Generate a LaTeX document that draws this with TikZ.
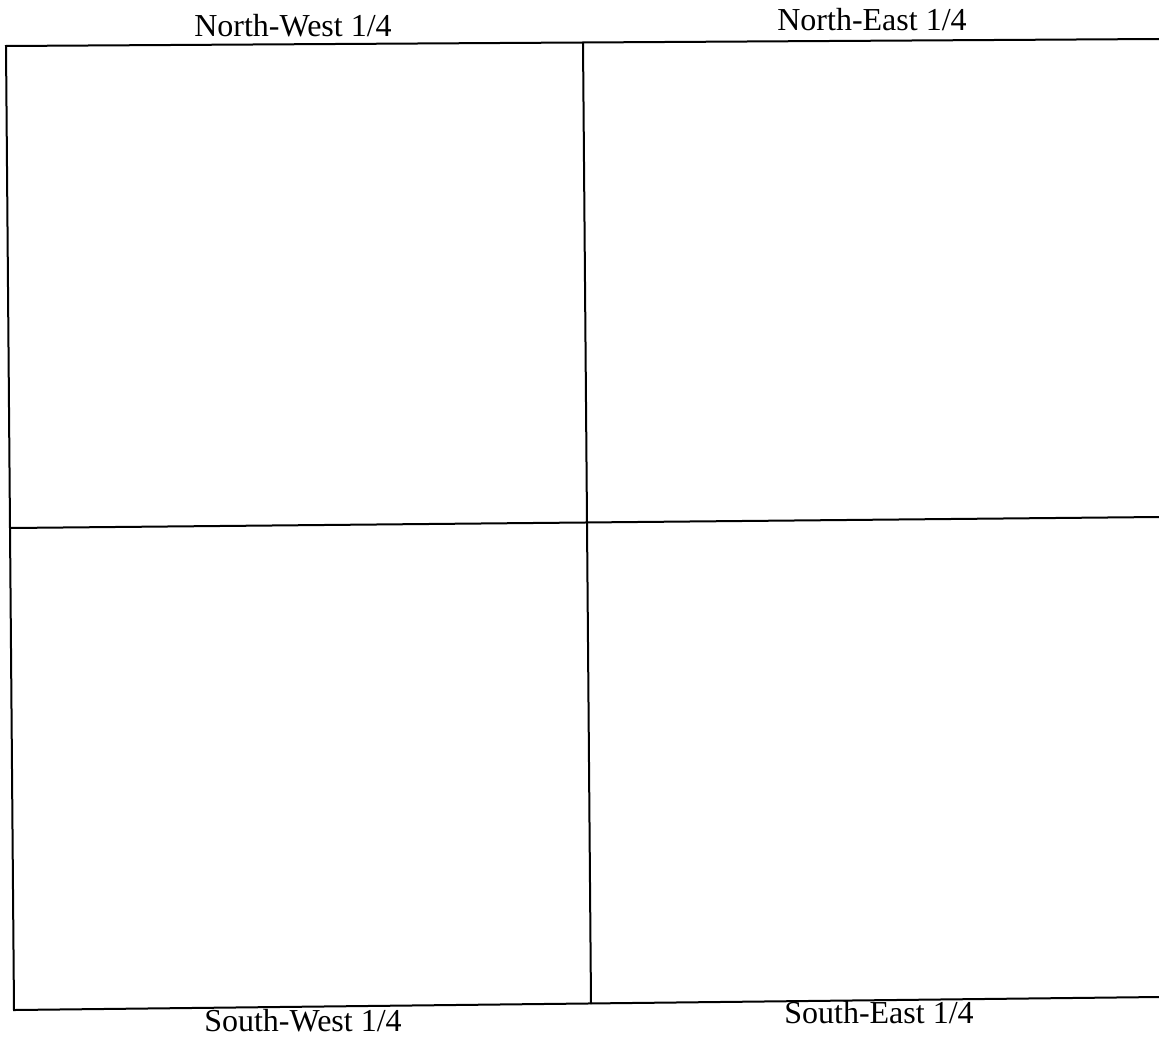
\documentclass[tikz,border=0pt]{standalone}
\usepackage{fontspec}
\setmainfont{Liberation Serif}
\usetikzlibrary{positioning}

\begin{document}
\begin{tikzpicture}[
  x=0.5pt, y=-0.5pt,
  rule/.style={line width=1pt, black},
  lab/.style={font=\fontsize{16}{19}\selectfont, anchor=base, inner sep=0pt}]
  \useasboundingbox (0,0) rectangle (1159,1038);
  % corners and ends of the cross, as scanned (slightly tilted)
  \coordinate (nw) at (6,46);     \coordinate (ne) at (1159,39);
  \coordinate (sw) at (14,1010);  \coordinate (se) at (1159,997);
  \coordinate (mt) at (583,43);   \coordinate (mb) at (591,1004);
  \coordinate (ml) at (10,528);   \coordinate (mr) at (1159,517);
  \draw[rule] (ne) -- (nw) -- (sw) -- (se);
  \draw[rule] (mt) -- (mb);
  \draw[rule] (ml) -- (mr);
  \node[lab] (nwq) at (293,37)   {North-West 1/4};
  \node[lab] (neq) at (872,31)   {North-East 1/4};
  \node[lab] (swq) at (303,1031) {South-West 1/4};
  \node[lab] (seq) at (879,1023) {South-East 1/4};
\end{tikzpicture}
\end{document}
